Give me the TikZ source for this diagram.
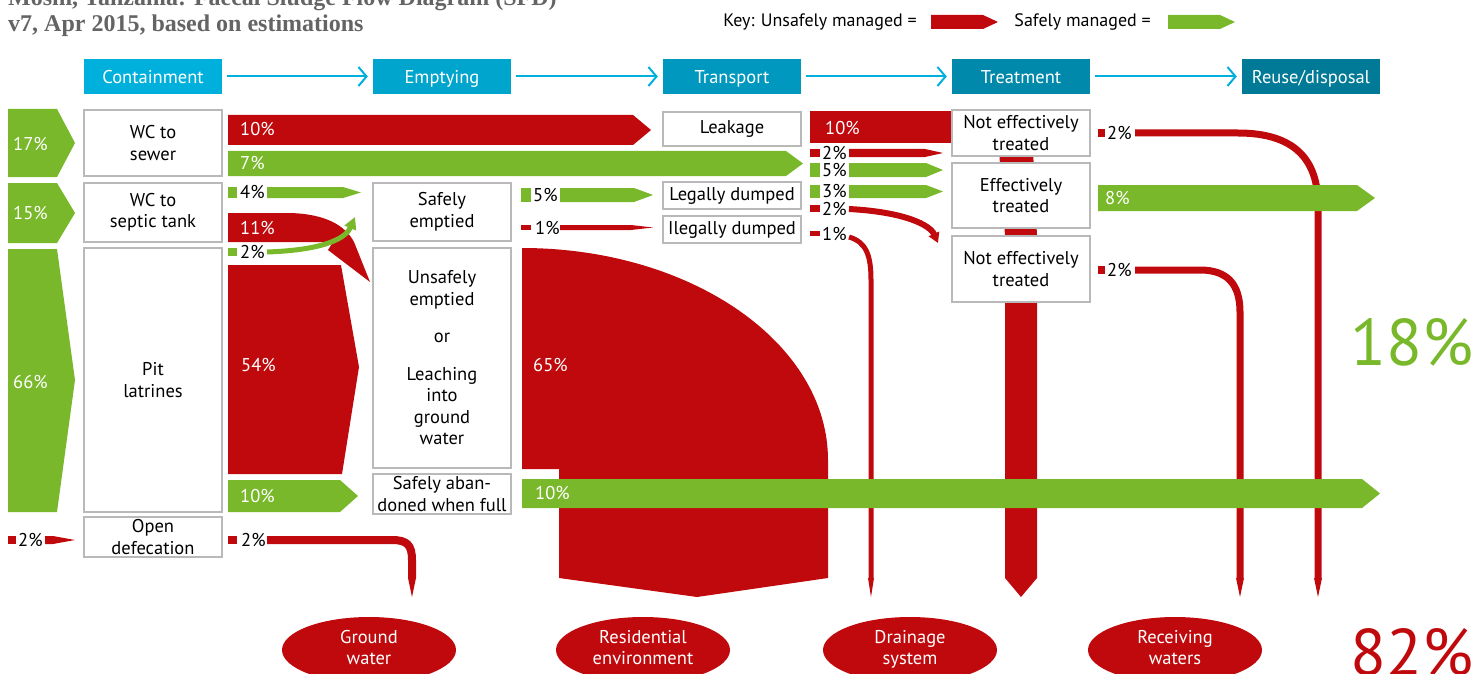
\documentclass[tikz,border=0pt]{standalone}
\usepackage{fontspec}
\setmainfont{PT Sans}
\newfontfamily\titlefont{Liberation Serif}
\usetikzlibrary{arrows.meta,shapes.geometric}

\definecolor{unsafe}{RGB}{192,9,12}
\definecolor{safe}{RGB}{120,184,42}
\definecolor{hdrA}{RGB}{0,176,220}
\definecolor{hdrB}{RGB}{0,165,205}
\definecolor{hdrC}{RGB}{0,152,190}
\definecolor{hdrD}{RGB}{0,137,170}
\definecolor{hdrE}{RGB}{0,122,150}
\definecolor{boxgray}{RGB}{185,185,185}
\definecolor{titlegray}{RGB}{100,100,100}

% pentagon flow: colour, x1, y1, x2, y2, tip length
\newcommand{\flowarrow}[6]{\fill[#1] (#2,#3) -- ({#4-#6},#3) -- (#4,{(#3+#5)/2}) -- ({#4-#6},#5) -- (#2,#5) -- cycle;}
% pointed end of a downward flow: x, half width
\newcommand{\droptip}[2]{\fill[unsafe] ({#1-#2},578) -- ({#1+#2},578) -- (#1,597) -- cycle;}

\begin{document}
\begin{tikzpicture}[x=1pt,y=-1pt,
  hdr/.style={text=white,minimum width=138pt,minimum height=35pt,inner sep=0pt,text height=16pt,text depth=1pt,font=\fontsize{18.5}{21.5}\selectfont},
  hdrarrow/.style={hdrA,line width=2pt,-{Straight Barb[length=8pt,width=19pt]},shorten <=5pt,shorten >=5pt},
  stepbox/.style={draw=boxgray,line width=1.2pt,fill=white,align=center,minimum width=138pt,inner sep=0pt,font=\fontsize{18.5}{21.5}\selectfont},
  pct/.style={anchor=west,inner sep=0pt,font=\fontsize{18.5}{21.5}\selectfont},
  wpct/.style={pct,text=white},
  sink/.style={ellipse,fill=unsafe,text=white,minimum width=174pt,minimum height=66pt,align=center,inner sep=0pt,font=\fontsize{18.5}{21}\selectfont},
  bigpct/.style={anchor=base west,inner sep=0pt,font=\fontsize{66}{66}\selectfont}]
\useasboundingbox (0,0) rectangle (1472,674);

% title and key
\node[anchor=base west,inner sep=0pt,text=titlegray,font=\titlefont\bfseries\fontsize{24}{28}\selectfont] (title) at (8,6) {Moshi, Tanzania: Faecal Sludge Flow Diagram (SFD)};
\node[anchor=base west,inner sep=0pt,text=titlegray,font=\titlefont\bfseries\fontsize{24}{28}\selectfont] (subtitle) at (8,32) {v7, Apr 2015, based on estimations};
\node[anchor=east,inner sep=0pt,font=\fontsize{18}{21}\selectfont] (keyred) at (917,22) {Key: Unsafely managed =};
\flowarrow{unsafe}{931}{15}{998}{29}{15}
\node[anchor=east,inner sep=0pt,font=\fontsize{18}{21}\selectfont] (keygreen) at (1151,22) {Safely managed =};
\flowarrow{safe}{1168}{15}{1235}{29}{15}

% service chain
\node[hdr,fill=hdrA] (contain) at (153,76.5) {Containment};
\node[hdr,fill=hdrB] (empty) at (442,76.5) {Emptying};
\node[hdr,fill=hdrC] (transp) at (732,76.5) {Transport};
\node[hdr,fill=hdrD] (treat) at (1021,76.5) {Treatment};
\node[hdr,fill=hdrE] (reuse) at (1311,76.5) {Reuse/disposal};
\draw[hdrarrow] (contain) -- (empty);
\draw[hdrarrow] (empty) -- (transp);
\draw[hdrarrow] (transp) -- (treat);
\draw[hdrarrow] (treat) -- (reuse);

% unsafe flows
\flowarrow{unsafe}{228}{115}{651}{145}{18}
\fill[unsafe] (810,111) rectangle (953,143);
\fill[unsafe] (999,150) -- (1033,150) -- (1037,236) -- (1037,578) -- (1021,597) -- (1005,578) -- (1005,236) -- cycle;
\fill[unsafe] (228,213) -- (290,213) .. controls (325,214) and (345,225) .. (354,242) -- (370,282) -- (328,250) -- (333,242) -- (228,242) -- cycle;
\fill[unsafe] (228,265) -- (341,265) -- (359,367) -- (342,474) -- (228,474) -- cycle;
\fill[unsafe] (522,248) .. controls (691,248) and (828,343) .. (828,460) -- (828,578) -- (697,597) -- (559,578) -- (559,469) -- (522,469) -- cycle;
\fill[unsafe] (8,536) rectangle (16,544);
\flowarrow{unsafe}{45}{536}{75}{544}{22}
\fill[unsafe] (228,536) rectangle (237,544);
\draw[unsafe,line width=8pt] (267,540) -- (392,540) .. controls (407,540) and (412,545) .. (412,560) -- (412,578);
\droptip{412}{4}
\fill[unsafe] (521,225) rectangle (531,230);
\flowarrow{unsafe}{560}{225}{653}{230}{22}
\fill[unsafe] (810,149) rectangle (820,157);
\flowarrow{unsafe}{849}{149}{943}{157}{18}
\fill[unsafe] (810,205) rectangle (820,212);
\draw[unsafe,line width=6pt,-{Triangle[length=10pt,width=11pt]}] (849,209) .. controls (905,212) and (930,225) .. (938,243);
\fill[unsafe] (810,231) rectangle (820,236);
\draw[unsafe,line width=5pt] (849,237) .. controls (866,242) and (871,255) .. (871,280) -- (871,578);
\droptip{871}{3}
\fill[unsafe] (1098,129) rectangle (1105,137);
\draw[unsafe,line width=7pt] (1135,133) -- (1238,133) .. controls (1295,133) and (1318,160) .. (1318,205) -- (1318,578);
\droptip{1318}{4}
\fill[unsafe] (1098,266) rectangle (1105,274);
\draw[unsafe,line width=7pt] (1135,270) -- (1200,270) .. controls (1228,270) and (1240,285) .. (1240,312) -- (1240,578);
\droptip{1240}{4}

% safe flows
\fill[safe] (8,109) -- (57,109) -- (75,143) -- (57,177) -- (8,177) -- cycle;
\fill[safe] (8,183) -- (57,183) -- (75,213) -- (57,243) -- (8,243) -- cycle;
\fill[safe] (8,249) -- (57,249) -- (75,380) -- (57,512) -- (8,512) -- cycle;
\flowarrow{safe}{228}{151}{803}{176}{17}
\fill[safe] (228,187) rectangle (237,198);
\flowarrow{safe}{267}{187}{361}{198}{18}
\fill[safe] (228,248) rectangle (237,256);
\draw[safe,line width=5pt,-{Triangle[length=12pt,width=12pt]}] (267,252) .. controls (325,250) and (346,238) .. (355,217);
\flowarrow{safe}{228}{480}{358}{512}{18}
\fill[safe] (521,188) rectangle (531,202);
\flowarrow{safe}{560}{188}{653}{202}{19}
\fill[safe] (810,163) rectangle (820,177);
\flowarrow{safe}{849}{163}{943}{177}{17}
\fill[safe] (810,185) rectangle (820,198);
\flowarrow{safe}{849}{185}{943}{198}{17}
\flowarrow{safe}{1098}{185}{1375}{211}{18}
\flowarrow{safe}{522}{479}{1380}{508}{18}

% containment
\node[stepbox,minimum height=66pt] (sewer) at (153,143) {WC to\\sewer};
\node[stepbox,minimum height=59pt] (septic) at (153,212.5) {WC to\\septic tank};
\node[stepbox,minimum height=264pt] (pit) at (153,380) {Pit\\latrines};
\node[stepbox,minimum height=40pt] (opendef) at (153,537) {Open\\defecation};
% emptying
\node[stepbox,minimum height=58pt] (safeemp) at (442,212) {Safely\\emptied};
\node[stepbox,minimum height=220pt] (unsafeemp) at (442,358) {Unsafely\\emptied\\[16pt]or\\[16pt]Leaching\\into\\ground\\water};
\node[stepbox,minimum height=40pt] (abandon) at (442,494) {Safely aban-\\doned when full};
% transport
\node[stepbox,minimum height=34pt] (leak) at (732,129) {Leakage};
\node[stepbox,minimum height=27pt] (legal) at (732,195.5) {Legally dumped};
\node[stepbox,minimum height=27pt] (illegal) at (732,229.5) {Ilegally dumped};
% treatment
\node[stepbox,minimum height=46pt] (notfxA) at (1021,133) {Not effectively\\treated};
\node[stepbox,minimum height=65pt] (effx) at (1021,195.5) {Effectively\\treated};
\node[stepbox,minimum height=66pt] (notfxB) at (1021,269) {Not effectively\\treated};

% percentages
\node[wpct] (pSewer) at (13,144) {17\%};
\node[wpct] (pSeptic) at (13,213) {15\%};
\node[wpct] (pPit) at (13,382) {66\%};
\node[pct] (pOpen) at (18,540) {2\%};
\node[wpct] (pLeakIn) at (240,129) {10\%};
\node[wpct] (pSewerOk) at (240,163) {7\%};
\node[pct] (pSepticOk) at (240,192) {4\%};
\node[wpct] (pSepticBad) at (240,228) {11\%};
\node[pct] (pSepticGw) at (240,252) {2\%};
\node[wpct] (pPitBad) at (241,365) {54\%};
\node[wpct] (pPitOk) at (240,496) {10\%};
\node[pct] (pOpenGw) at (241,540) {2\%};
\node[pct] (pLegal) at (533,195) {5\%};
\node[pct] (pIllegal) at (535,228) {1\%};
\node[wpct] (pRes) at (533,365) {65\%};
\node[wpct] (pAband) at (535,493) {10\%};
\node[wpct] (pLeakOut) at (825,128) {10\%};
\node[pct] (pTrA) at (822,153) {2\%};
\node[pct] (pTrB) at (822,170) {5\%};
\node[pct] (pTrC) at (822,191) {3\%};
\node[pct] (pTrD) at (822,209) {2\%};
\node[pct] (pTrE) at (822,234) {1\%};
\node[pct] (pOutA) at (1107,133) {2\%};
\node[wpct] (pOutOk) at (1105,198) {8\%};
\node[pct] (pOutB) at (1107,270) {2\%};

% end points
\node[sink] (gw) at (369,650) {Ground\strut\\water\strut};
\node[sink] (res) at (643,650) {Residential\strut\\environment\strut};
\node[sink] (drain) at (910,650) {Drainage\strut\\system\strut};
\node[sink] (recv) at (1175,650) {Receiving\strut\\waters\strut};

\node[bigpct,text=safe] (totalOk) at (1350,365) {18\%};
\node[bigpct,text=unsafe] (totalBad) at (1350,675) {82\%};
\end{tikzpicture}
\end{document}
